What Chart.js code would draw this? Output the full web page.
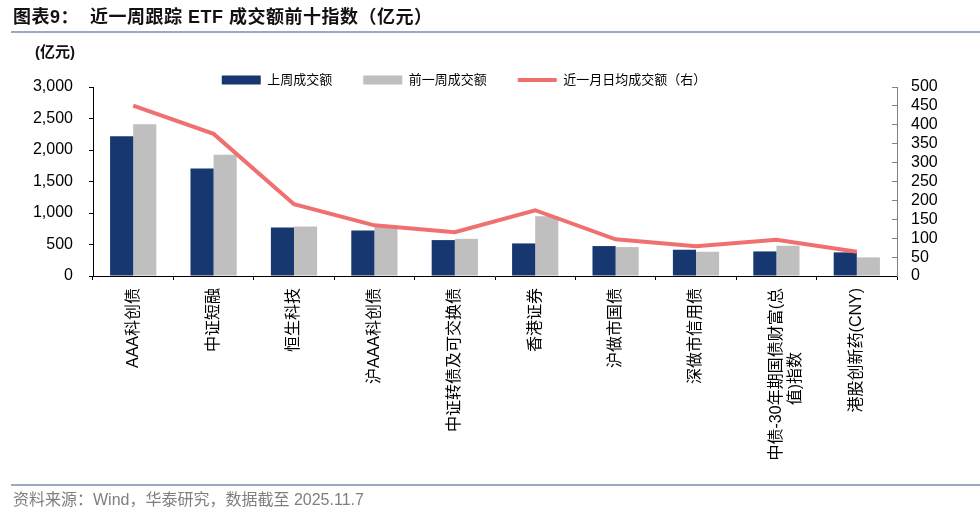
<!DOCTYPE html>
<html>
<head>
<meta charset="utf-8">
<script src="https://cdn.jsdelivr.net/npm/chart.js@4"></script>
<style>
html,body{margin:0;padding:0;background:#fff;}
#wrap{position:relative;width:980px;height:520px;overflow:hidden;font-family:'Liberation Sans','Noto Sans CJK SC',sans-serif;}
#title{position:absolute;left:13px;top:6px;font-size:18px;line-height:22px;font-weight:bold;color:#111;white-space:pre;letter-spacing:0.5px;}
#tl{position:absolute;left:11px;right:0;top:31px;height:2px;background:#9AAAC4;}
#unit{position:absolute;left:35px;top:43px;font-size:15px;line-height:18px;font-weight:bold;color:#111;}
#fl{position:absolute;left:11px;right:0;top:484px;height:2px;background:#9AAAC4;}
#foot{position:absolute;left:13px;top:490px;font-size:16px;line-height:20px;color:#7f7f7f;white-space:pre;}
#cw{position:absolute;left:0;top:0;width:980px;height:520px;}
</style>
</head>
<body>
<div id="wrap">
  <div id="cw"><canvas id="c"></canvas></div>
  <div id="title">图表9：  近一周跟踪 ETF 成交额前十指数（亿元）</div>
  <div id="tl"></div>
  <div id="unit">(亿元)</div>
  <div id="fl"></div>
  <div id="foot">资料来源：Wind，华泰研究，数据截至 2025.11.7</div>
</div>
<script>
// ---- data ----
const categories = ['AAA科创债','中证短融','恒生科技','沪AAA科创债','中证转债及可交换债','香港证券','沪做市国债','深做市信用债',['中债-30年期国债财富(总','值)指数\u3000\u3000\u3000\u3000'],'港股创新药(CNY)'];
const lastWeek = [2220, 1705, 770, 723, 570, 517, 475, 417, 390, 375];
const prevWeek = [2410, 1925, 786, 780, 590, 950, 459, 385, 480, 296];
const monthAvg = [451, 376, 190, 134, 116, 174, 97, 79, 96, 64];
const seriesNames = ['上周成交额', '前一周成交额', '近一月日均成交额（右）'];
const leftTicks = {min: 0, max: 3000, step: 500};
const rightTicks = {min: 0, max: 500, step: 50};

const FONT = "'Liberation Sans','Noto Sans CJK SC',sans-serif";
const NAVY = '#173770', GRAY = '#BFBFBF', RED = '#F07070';

const legendShift = {
  id: 'legendShift',
  afterLayout(chart) {
    const l = chart.legend; if (!l) return;
    l.left -= 26; l.right -= 26; l.top += 9.5; l.bottom += 9.5;
  }
};

new Chart(document.getElementById('c'), {
  type: 'bar',
  data: {
    labels: categories,
    datasets: [
      {label: seriesNames[0], data: lastWeek, backgroundColor: NAVY, borderWidth: 0, yAxisID: 'y', order: 1, barPercentage: 1, categoryPercentage: 0.575},
      {label: seriesNames[1], data: prevWeek, backgroundColor: GRAY, borderWidth: 0, yAxisID: 'y', order: 1, barPercentage: 1, categoryPercentage: 0.575},
      {type: 'line', label: seriesNames[2], data: monthAvg, borderColor: RED, backgroundColor: RED, borderWidth: 4, pointRadius: 0, tension: 0, fill: false, yAxisID: 'y1', order: 0}
    ]
  },
  plugins: [legendShift],
  options: {
    responsive: true,
    maintainAspectRatio: false,
    animation: false,
    devicePixelRatio: 1,
    layout: {padding: {top: 33, left: 0, right: 0, bottom: 54}},
    plugins: {
      tooltip: {enabled: false},
      legend: {
        position: 'top',
        labels: {
          usePointStyle: true,
          pointStyleWidth: 39,
          boxHeight: 9,
          padding: 31,
          color: '#000',
          font: {family: FONT, size: 13},
          sort: (a, b) => a.datasetIndex - b.datasetIndex,
          generateLabels(chart) {
            const items = Chart.defaults.plugins.legend.labels.generateLabels(chart);
            items.forEach(it => {
              const ds = chart.data.datasets[it.datasetIndex];
              if (ds.type === 'line') { it.pointStyle = 'line'; it.strokeStyle = RED; it.lineWidth = 4; }
              else { it.pointStyle = 'rect'; it.lineWidth = 0; }
            });
            return items;
          }
        }
      }
    },
    scales: {
      x: {
        grid: {display: true, drawOnChartArea: false, drawTicks: true, tickLength: 4, color: '#000', offset: true},
        border: {display: true, color: '#000', width: 1},
        ticks: {autoSkip: false, maxRotation: 90, minRotation: 90, padding: 8, color: '#000', font: {family: FONT, size: 16}},
        afterFit(s) { s.height = 190; }
      },
      y: {
        position: 'left',
        min: leftTicks.min, max: leftTicks.max,
        grid: {display: true, drawOnChartArea: false, drawTicks: true, tickLength: 4, color: '#000'},
        border: {display: true, color: '#000', width: 1},
        ticks: {stepSize: leftTicks.step, autoSkip: false, padding: 16, color: '#000', font: {family: FONT, size: 16},
          callback: v => v.toLocaleString('en-US')},
        afterFit(s) { s.width = 93; }
      },
      y1: {
        position: 'right',
        min: rightTicks.min, max: rightTicks.max,
        grid: {display: true, drawOnChartArea: false, drawTicks: true, tickLength: -5, color: '#808080'},
        border: {display: true, color: '#808080', width: 1},
        ticks: {stepSize: rightTicks.step, autoSkip: false, padding: 19, color: '#000', font: {family: FONT, size: 16}},
        afterFit(s) { s.width = 83; }
      }
    }
  }
});
</script>
</body>
</html>
